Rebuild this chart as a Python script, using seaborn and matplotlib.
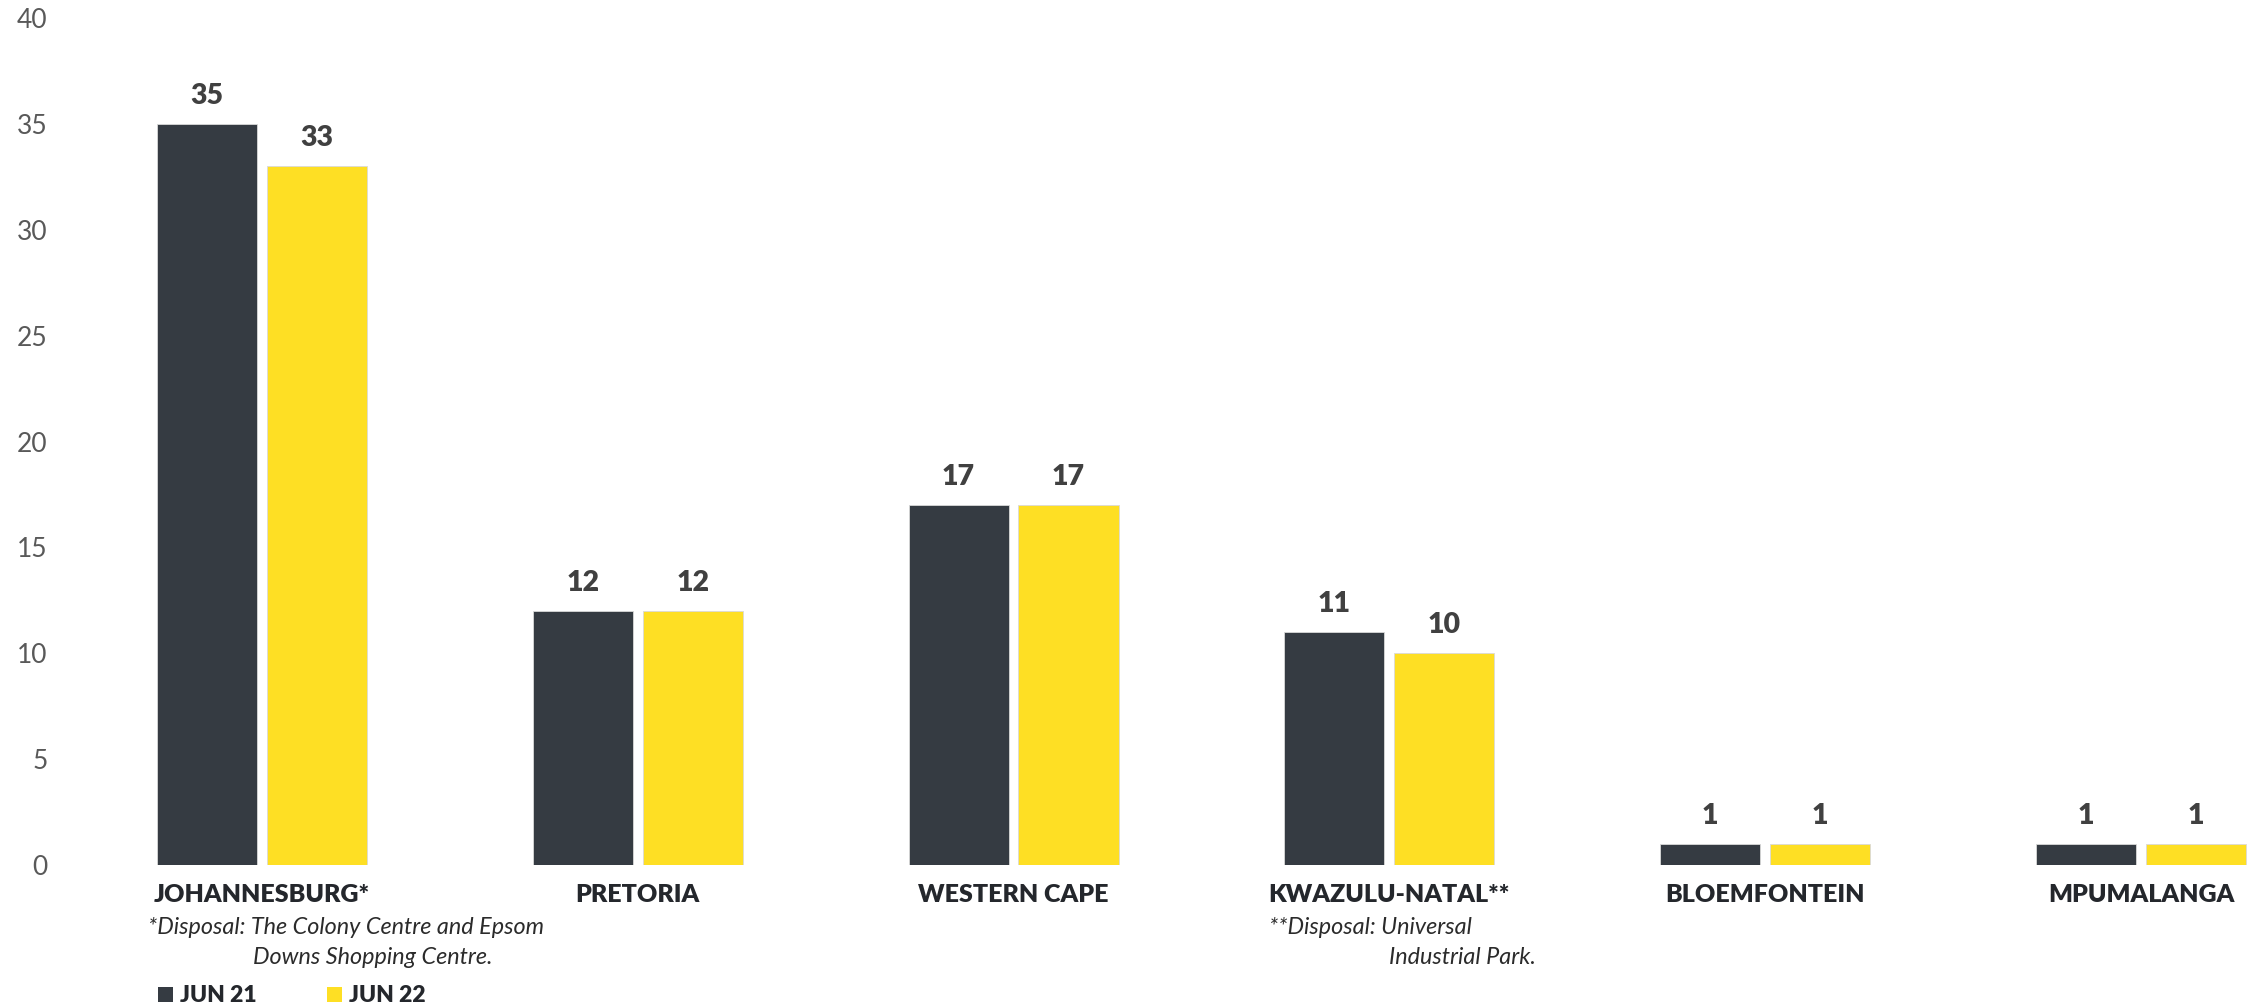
import matplotlib
matplotlib.use("Agg")
import matplotlib.pyplot as plt
from matplotlib.patches import Patch
import seaborn as sns
import pandas as pd

# Property counts by region
regions = ["JOHANNESBURG*", "PRETORIA", "WESTERN CAPE", "KWAZULU-NATAL**",
           "BLOEMFONTEIN", "MPUMALANGA"]
periods = ["JUN 21", "JUN 22"]
jun21 = [35, 12, 17, 11, 1, 1]
jun22 = [33, 12, 17, 10, 1, 1]
y_ticks = [0, 5, 10, 15, 20, 25, 30, 35, 40]

colors = {"JUN 21": "#353b42", "JUN 22": "#fedf24"}

df = pd.DataFrame({
    "region": regions * 2,
    "period": [periods[0]] * len(regions) + [periods[1]] * len(regions),
    "count": jun21 + jun22,
})

sns.set_theme(style="white")
plt.rcParams["font.family"] = ["Lato", "DejaVu Sans"]

W, H = 2259, 1008
fig = plt.figure(figsize=(W / 100, H / 100), dpi=100)
ax_left = 74 / W
ax_bottom = (H - 865) / H
ax_top = (H - 18) / H
ax = fig.add_axes([ax_left, ax_bottom, 1 - ax_left, ax_top - ax_bottom])

sns.barplot(data=df, x="region", y="count", hue="period", hue_order=periods,
            palette=colors, width=0.585, gap=0.09, saturation=1,
            edgecolor="#d9d9d9", linewidth=0.6, ax=ax, legend=False)

ax.set_ylim(0, 40)
ax.set_xlim(-0.5, 5.314)
ax.set_yticks(y_ticks)
ax.set_xlabel("")
ax.set_ylabel("")
for s in ax.spines.values():
    s.set_visible(False)

ax.tick_params(axis="y", length=0, pad=19, labelsize=19, labelcolor="#595959")
ax.tick_params(axis="x", length=0, pad=14, labelsize=18, labelcolor="#24272c")
for lbl in ax.get_xticklabels():
    lbl.set_fontweight("heavy")

for cont in ax.containers:
    ax.bar_label(cont, padding=11, fontsize=20.5, fontweight="heavy", color="#404040")

# footnotes under the category labels
note_kw = dict(transform=fig.transFigure, fontsize=16.8, style="italic",
               color="#2b2b2b", va="center", ha="left")
fig.text(148 / W, 1 - 928 / H, "*Disposal: The Colony Centre and Epsom", **note_kw)
fig.text(253 / W, 1 - 957 / H, "Downs Shopping Centre.", **note_kw)
fig.text(1269 / W, 1 - 928 / H, "**Disposal: Universal", **note_kw)
fig.text(1389 / W, 1 - 957 / H, "Industrial Park.", **note_kw)

handles = [Patch(facecolor=colors[p], edgecolor="none") for p in periods]
fig.legend(handles, periods, loc="center left", bbox_to_anchor=(158 / W, 1 - 996 / H),
           ncol=2, frameon=False, handlelength=0.66, handleheight=0.66,
           handletextpad=0.28, columnspacing=3.1, borderpad=0, borderaxespad=0,
           prop={"weight": "heavy", "size": 16.5}, labelcolor="#24272c")

fig.savefig("out.png", dpi=100)
